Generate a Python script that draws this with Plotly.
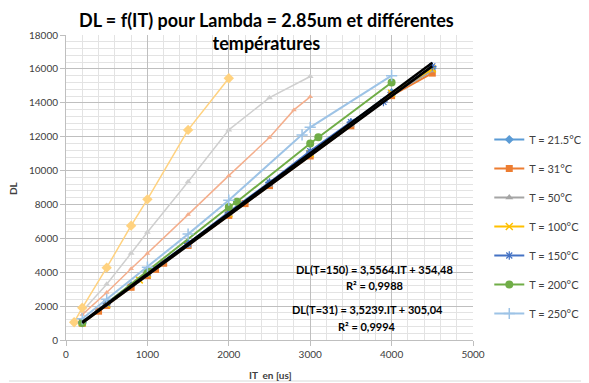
import plotly.graph_objects as go
import numpy as np

# ---- data ----
IT_215 = [200, 500, 800, 1000, 1500, 2000, 2500, 3000, 3500, 4000, 4500]
DL_215 = [1010, 2130, 3200, 3930, 5700, 7480, 9260, 11030, 12820, 14600, 16050]

IT_31 = [200, 400, 500, 800, 1000, 1100, 1200, 1500, 2000, 2200, 2500, 3000, 3500, 4000, 4500]
DL_31 = [990, 1700, 2040, 3110, 3800, 4170, 4530, 5580, 7350, 8050, 9110, 10860, 12640, 14420, 15750]

IT_50 = [200, 500, 1000, 1500, 2000, 2500, 3000, 3500, 4000, 4500]
DL_50 = [1020, 2070, 3840, 5560, 7400, 9150, 10950, 12700, 14500, 15900]

IT_100 = [200, 500, 900, 1000, 2000, 3000, 4000, 4500]
DL_100 = [1030, 2100, 3550, 3900, 7450, 11000, 14560, 16000]

IT_150 = [200, 500, 1000, 1500, 2000, 2500, 3000, 3500, 3900, 4500]
DL_150 = [1050, 2180, 3970, 5700, 7550, 9300, 11150, 12860, 14050, 16150]

IT_200 = [200, 1000, 2000, 2100, 3000, 3100, 4000]
DL_200 = [1000, 4070, 7850, 8160, 11600, 11960, 15200]

IT_250 = [200, 500, 1000, 1500, 2000, 2900, 3000, 4000]
DL_250 = [1250, 2400, 4300, 6250, 8250, 12100, 12550, 15600]

# faded, unlabelled series
IT_fy = [100, 200, 500, 800, 1000, 1500, 2000]
DL_fy = [1050, 1900, 4270, 6750, 8300, 12400, 15450]
IT_fg = [200, 500, 800, 1000, 1500, 2000, 2500, 3000]
DL_fg = [1700, 3290, 5120, 6360, 9340, 12400, 14300, 15550]
IT_fs = [200, 500, 800, 1000, 1500, 2000, 2500, 2800, 3000]
DL_fs = [1500, 2800, 4200, 5100, 7400, 9700, 11950, 13580, 14350]

# trendline coefficients (slope, intercept)
TREND_150 = (3.5564, 354.48)
TREND_31 = (3.5239, 305.04)

names = ["T = 21.5°C", "T = 31°C", "T = 50°C", "T = 100°C", "T = 150°C", "T = 200°C", "T = 250°C"]

fig = go.Figure()

# faded series
fig.add_trace(go.Scatter(x=IT_fg, y=DL_fg, mode="lines+markers", showlegend=False,
                         line=dict(color="#CFCFCF", width=1.5),
                         marker=dict(symbol="triangle-up", size=6, color="#CFCFCF")))
fig.add_trace(go.Scatter(x=IT_fs, y=DL_fs, mode="lines+markers", showlegend=False,
                         line=dict(color="#F4AE8C", width=1.5),
                         marker=dict(symbol="triangle-up", size=5, color="#F4AE8C")))
fig.add_trace(go.Scatter(x=IT_fy, y=DL_fy, mode="lines+markers", showlegend=False,
                         line=dict(color="#FFD27F", width=1.5),
                         marker=dict(symbol="diamond", size=8, color="#FFD27F")))

styles = [
    (IT_215, DL_215, "#5B9BD5", "diamond", 7, 0),
    (IT_31, DL_31, "#ED7D31", "square", 7, 0),
    (IT_50, DL_50, "#A5A5A5", "triangle-up", 7, 0),
    (IT_100, DL_100, "#FFC000", "x-thin-open", 7, 1.5),
    (IT_150, DL_150, "#4472C4", "asterisk-open", 7, 1.2),
    (IT_200, DL_200, "#70AD47", "circle", 8, 0),
    (IT_250, DL_250, "#9DC3E6", "cross-thin-open", 8, 1.5),
]
for i, (xs, ys, col, sym, sz, lw) in enumerate(styles):
    fig.add_trace(go.Scatter(
        x=xs, y=ys, mode="lines+markers", name=names[i], legendgroup=f"g{i}",
        line=dict(color=col, width=2),
        marker=dict(symbol=sym, size=sz, color=col, line=dict(color=col, width=lw)),
    ))

# trendlines
for (a, b), xs in [(TREND_31, IT_31), (TREND_150, IT_150)]:
    tx = np.array([min(xs), max(xs)], dtype=float)
    fig.add_trace(go.Scatter(x=tx, y=a * tx + b, mode="lines", showlegend=False,
                             line=dict(color="black", width=2.5)))

ann_font = dict(family="Lato, Arial", size=11, color="#000000")
fig.add_annotation(x=3790, y=4150, xref="x", yref="y", showarrow=False,
                   text="<b>DL(T=150) = 3,5564.IT + 354,48</b>", font=ann_font)
fig.add_annotation(x=3790, y=3200, xref="x", yref="y", showarrow=False,
                   text="<b>R² = 0,9988</b>", font=ann_font)
fig.add_annotation(x=3700, y=1780, xref="x", yref="y", showarrow=False,
                   text="<b>DL(T=31) = 3,5239.IT + 305,04</b>", font=ann_font)
fig.add_annotation(x=3700, y=780, xref="x", yref="y", showarrow=False,
                   text="<b>R² = 0,9994</b>", font=ann_font)

# The page body has an 8px default margin, so the figure is drawn 8px in
# from the window's top-left corner; sizes/margins compensate for that.
OFF = 8
PW, PH = 407.0, 305.0
# title
fig.add_annotation(x=(266 - 66) / PW, y=1 + (35 - 7) / PH, xref="paper", yref="paper",
                   xanchor="center", yanchor="top", showarrow=False, align="center",
                   text="<b>DL = f(IT) pour Lambda = 2.85um et différentes<br>températures</b>",
                   font=dict(family="Lato, Arial", size=18, color="#000000"))
# axis titles
fig.add_annotation(x=(270 - 66) / PW, y=-(375 - 340) / PH, xref="paper", yref="paper",
                   xanchor="center", yanchor="middle", showarrow=False,
                   text="<b>IT  en [us]</b>", font=dict(family="Lato, Arial", size=10, color="#404040"))
fig.add_annotation(x=-(66 - 13) / PW, y=(340 - 188) / PH, xref="paper", yref="paper",
                   xanchor="center", yanchor="middle", showarrow=False, textangle=-90,
                   text="<b>DL</b>", font=dict(family="Lato, Arial", size=10, color="#404040"))

# right / bottom edges of the chart border (the rest falls outside the figure)
fig.add_shape(type="line", xref="paper", yref="paper",
              x0=(587 - 66) / PW, x1=(587 - 66) / PW, y0=-(381 - 340) / PH, y1=1 + (35 - 9) / PH,
              line=dict(color="#D9D9D9", width=1))
fig.add_shape(type="line", xref="paper", yref="paper",
              x0=-(66 - 9) / PW, x1=(587 - 66) / PW, y0=-(381 - 340) / PH, y1=-(381 - 340) / PH,
              line=dict(color="#D9D9D9", width=1))

fig.update_layout(
    width=589 - OFF, height=383 - OFF,
    margin=dict(l=66 - OFF, r=116, t=35 - OFF, b=43, autoexpand=False),
    paper_bgcolor="white", plot_bgcolor="white",
    font=dict(family="Lato, Arial", size=10, color="#404040"),
    legend=dict(x=1.04, y=0.705, xanchor="left", yanchor="top",
                font=dict(family="Lato, Arial", size=11, color="#404040"),
                tracegroupgap=10, bgcolor="rgba(0,0,0,0)"),
    xaxis=dict(range=[0, 5000], dtick=1000, tickformat="d", automargin=False,
               showgrid=True, gridcolor="#BFBFBF", gridwidth=1,
               minor=dict(dtick=200, showgrid=True, gridcolor="#E3E3E3"),
               showline=True, linecolor="#BFBFBF", ticks="outside", ticklen=5,
               tickcolor="#BFBFBF", zeroline=False),
    yaxis=dict(range=[0, 18000], dtick=2000, tickformat="d", automargin=False,
               showgrid=True, gridcolor="#BFBFBF", gridwidth=1,
               minor=dict(dtick=400, showgrid=True, gridcolor="#E3E3E3"),
               showline=True, linecolor="#BFBFBF", ticks="outside", ticklen=5,
               tickcolor="#BFBFBF", zeroline=False),
)

fig.write_html("out.html")
